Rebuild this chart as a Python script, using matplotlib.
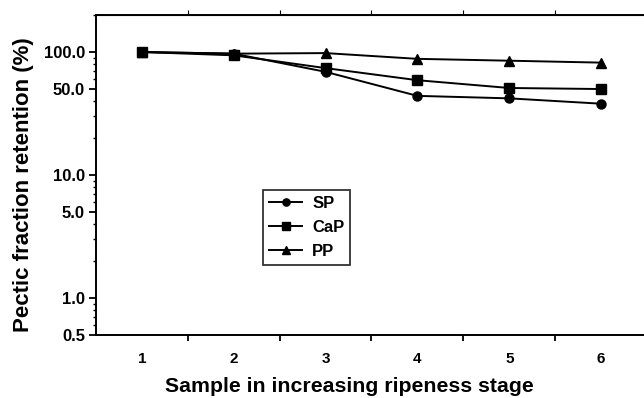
import numpy as np
import matplotlib.pyplot as plt
from matplotlib.ticker import FixedLocator, NullFormatter, LogLocator

plt.rcParams["font.family"] = ["Liberation Sans", "DejaVu Sans"]
plt.rcParams["font.weight"] = "bold"

# ---------- Daten ----------
stage = [1, 2, 3, 4, 5, 6]
sp = [100, 97, 69, 44, 42, 38]
cap = [100, 94, 74, 59, 51, 50]
pp = [100, 97, 98, 88, 85, 82]

ytick_vals = [0.5, 1.0, 5.0, 10.0, 50.0, 100.0]
ytick_labels = ["0.5", "1.0", "5.0", "10.0", "50.0", "100.0"]

# ---------- Plot ----------
fig = plt.figure(figsize=(6.44, 3.98), dpi=100)
ax = fig.add_axes([96 / 644, 1 - 335 / 398, 551 / 644, 320 / 398])

kw = dict(color="black", lw=1.4, ms=6.5)
ax.plot(stage, sp, marker="o", label="SP", **kw)
ax.plot(stage, cap, marker="s", label="CaP", **kw)
ax.plot(stage, pp, marker="^", label="PP", **kw)

ax.set_yscale("log")
ax.set_ylim(0.5, 200)
ax.set_xlim(0.5, 6.5)

ax.yaxis.set_major_locator(FixedLocator(ytick_vals))
ax.set_yticklabels(ytick_labels)
ax.yaxis.set_minor_locator(LogLocator(base=10, subs=np.arange(2, 10)))
ax.yaxis.set_minor_formatter(NullFormatter())

# x: Ticks zwischen den Stufen, Beschriftung auf den Stufen
ax.set_xticks([1.5, 2.5, 3.5, 4.5, 5.5])
ax.set_xticklabels([])
ax.set_xticks(stage, minor=True)
ax.set_xticklabels([str(s) for s in stage], minor=True, fontsize=11, fontweight="bold")
ax.tick_params(axis="x", which="minor", length=0, pad=12)
ax.tick_params(axis="x", which="major", length=4, width=1.3, direction="out")
ax.secondary_xaxis("top").set_xticks([1.5, 2.5, 3.5, 4.5, 5.5], labels=[])
ax.tick_params(axis="y", which="major", length=5, width=1.3, labelsize=12, pad=3)
ax.tick_params(axis="y", which="minor", length=2.5, width=1.0)

for s in ax.spines.values():
    s.set_linewidth(1.4)

ax.set_xlabel("Sample in increasing ripeness stage", fontsize=15.3, fontweight="bold")
ax.xaxis.set_label_coords(0.459, -0.13)
ax.set_ylabel("Pectic fraction retention (%)", fontsize=16, fontweight="bold")
ax.yaxis.set_label_coords(-0.113, 0.47)

leg = ax.legend(loc="upper left", bbox_to_anchor=((263 - 96) / 551, 1 - (190 - 15) / 320),
                bbox_transform=ax.transAxes, frameon=True, fancybox=False,
                edgecolor="black", fontsize=12, handlelength=2.0, borderpad=0.35,
                labelspacing=0.55, borderaxespad=0, handletextpad=0.6, markerscale=0.8)
leg.get_frame().set_linewidth(1.3)
for t in leg.get_texts():
    t.set_fontweight("bold")

fig.savefig("out.png", dpi=100)
